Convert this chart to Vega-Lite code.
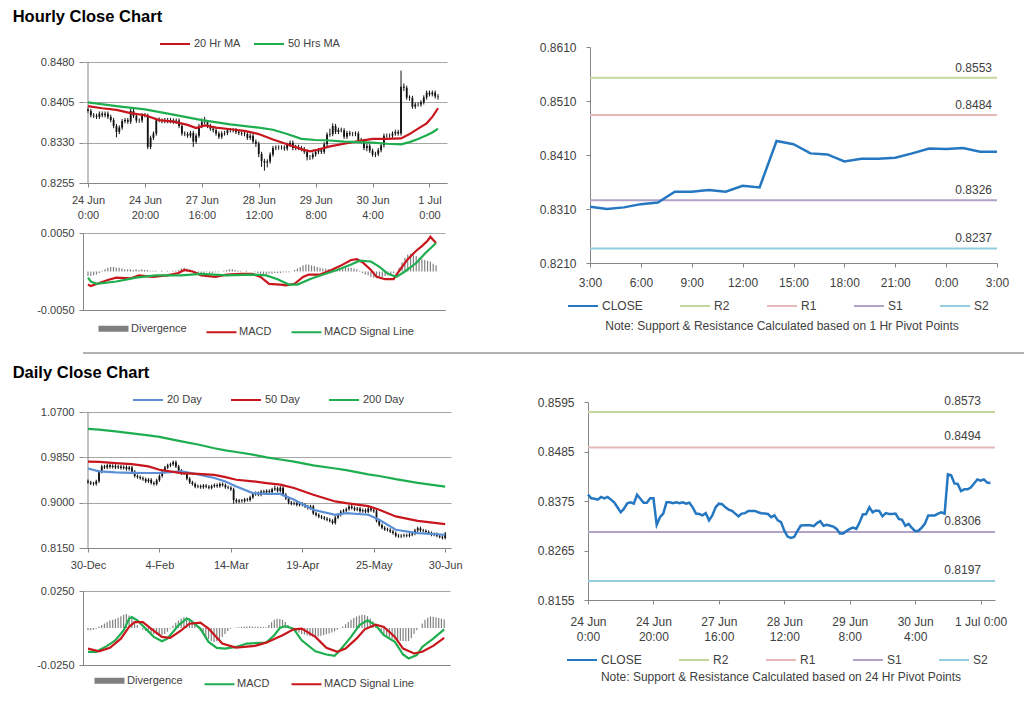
{
  "$schema": "https://vega.github.io/schema/vega-lite/v6.json",
  "background": "white",
  "padding": {"left": 12, "top": 8, "right": 0, "bottom": 0},
  "spacing": 10,
  "config": {
    "font": "Liberation Sans",
    "view": {"stroke": null},
    "axis": {"labelFont": "Liberation Sans", "labelColor": "#404040", "domainColor": "#868686", "tickColor": "#868686", "gridColor": "#a6a6a6", "tickSize": 4, "labelFontSize": 11},
    "legend": {"labelFont": "Liberation Sans", "labelColor": "#404040", "labelFontSize": 11, "symbolStrokeWidth": 2, "padding": 0, "titleFont": "Liberation Sans"}
  },
  "resolve": {"scale": {"color": "independent"}, "legend": {"color": "independent"}},
  "datasets": {
    "hourly": [
      {"i":0,"o":0.8392,"h":0.8396,"l":0.8385,"c":0.8389},{"i":1,"o":0.8389,"h":0.8393,"l":0.8377,"c":0.8381},{"i":2,"o":0.8381,"h":0.8385,"l":0.8376,"c":0.8380},{"i":3,"o":0.8380,"h":0.8384,"l":0.8374,"c":0.8378},
      {"i":4,"o":0.8378,"h":0.8388,"l":0.8374,"c":0.8384},{"i":5,"o":0.8384,"h":0.8388,"l":0.8377,"c":0.8381},{"i":6,"o":0.8381,"h":0.8388,"l":0.8377,"c":0.8384},{"i":7,"o":0.8384,"h":0.8388,"l":0.8374,"c":0.8378},
      {"i":8,"o":0.8378,"h":0.8382,"l":0.8368,"c":0.8372},{"i":9,"o":0.8372,"h":0.8376,"l":0.8357,"c":0.8361},{"i":10,"o":0.8361,"h":0.8365,"l":0.8340,"c":0.8350},{"i":11,"o":0.8350,"h":0.8362,"l":0.8346,"c":0.8358},
      {"i":12,"o":0.8358,"h":0.8374,"l":0.8354,"c":0.8370},{"i":13,"o":0.8370,"h":0.8376,"l":0.8366,"c":0.8372},{"i":14,"o":0.8372,"h":0.8376,"l":0.8365,"c":0.8369},{"i":15,"o":0.8369,"h":0.8395,"l":0.8365,"c":0.8389},
      {"i":16,"o":0.8389,"h":0.8393,"l":0.8376,"c":0.8380},{"i":17,"o":0.8380,"h":0.8384,"l":0.8367,"c":0.8371},{"i":18,"o":0.8371,"h":0.8375,"l":0.8367,"c":0.8371},{"i":19,"o":0.8371,"h":0.8385,"l":0.8367,"c":0.8381},
      {"i":20,"o":0.8381,"h":0.8385,"l":0.8377,"c":0.8381},{"i":21,"o":0.8381,"h":0.8384,"l":0.8318,"c":0.8322},{"i":22,"o":0.8322,"h":0.8343,"l":0.8318,"c":0.8339},{"i":23,"o":0.8339,"h":0.8351,"l":0.8335,"c":0.8347},
      {"i":24,"o":0.8347,"h":0.8376,"l":0.8343,"c":0.8372},{"i":25,"o":0.8372,"h":0.8377,"l":0.8368,"c":0.8372},{"i":26,"o":0.8372,"h":0.8375,"l":0.8366,"c":0.8370},{"i":27,"o":0.8370,"h":0.8376,"l":0.8366,"c":0.8372},
      {"i":28,"o":0.8372,"h":0.8376,"l":0.8366,"c":0.8370},{"i":29,"o":0.8370,"h":0.8376,"l":0.8366,"c":0.8372},{"i":30,"o":0.8372,"h":0.8375,"l":0.8365,"c":0.8369},{"i":31,"o":0.8369,"h":0.8375,"l":0.8365,"c":0.8371},
      {"i":32,"o":0.8371,"h":0.8375,"l":0.8357,"c":0.8361},{"i":33,"o":0.8361,"h":0.8365,"l":0.8343,"c":0.8347},{"i":34,"o":0.8347,"h":0.8351,"l":0.8342,"c":0.8346},{"i":35,"o":0.8346,"h":0.8350,"l":0.8339,"c":0.8343},
      {"i":36,"o":0.8343,"h":0.8352,"l":0.8339,"c":0.8348},{"i":37,"o":0.8348,"h":0.8352,"l":0.8322,"c":0.8332},{"i":38,"o":0.8332,"h":0.8347,"l":0.8328,"c":0.8343},{"i":39,"o":0.8343,"h":0.8365,"l":0.8339,"c":0.8361},
      {"i":40,"o":0.8361,"h":0.8375,"l":0.8357,"c":0.8369},{"i":41,"o":0.8369,"h":0.8378,"l":0.8364,"c":0.8368},{"i":42,"o":0.8368,"h":0.8372,"l":0.8357,"c":0.8361},{"i":43,"o":0.8361,"h":0.8365,"l":0.8352,"c":0.8356},
      {"i":44,"o":0.8356,"h":0.8360,"l":0.8349,"c":0.8353},{"i":45,"o":0.8353,"h":0.8357,"l":0.8343,"c":0.8347},{"i":46,"o":0.8347,"h":0.8351,"l":0.8337,"c":0.8341},{"i":47,"o":0.8341,"h":0.8351,"l":0.8337,"c":0.8347},
      {"i":48,"o":0.8347,"h":0.8352,"l":0.8343,"c":0.8348},{"i":49,"o":0.8348,"h":0.8357,"l":0.8344,"c":0.8353},{"i":50,"o":0.8353,"h":0.8357,"l":0.8349,"c":0.8353},{"i":51,"o":0.8353,"h":0.8357,"l":0.8349,"c":0.8353},
      {"i":52,"o":0.8353,"h":0.8357,"l":0.8346,"c":0.8350},{"i":53,"o":0.8350,"h":0.8354,"l":0.8344,"c":0.8348},{"i":54,"o":0.8348,"h":0.8352,"l":0.8343,"c":0.8347},{"i":55,"o":0.8347,"h":0.8351,"l":0.8342,"c":0.8346},
      {"i":56,"o":0.8346,"h":0.8350,"l":0.8335,"c":0.8339},{"i":57,"o":0.8339,"h":0.8347,"l":0.8335,"c":0.8343},{"i":58,"o":0.8343,"h":0.8347,"l":0.8328,"c":0.8332},{"i":59,"o":0.8332,"h":0.8336,"l":0.8322,"c":0.8328},
      {"i":60,"o":0.8328,"h":0.8332,"l":0.8303,"c":0.8309},{"i":61,"o":0.8309,"h":0.8313,"l":0.8285,"c":0.8296},{"i":62,"o":0.8296,"h":0.8300,"l":0.8278,"c":0.8293},{"i":63,"o":0.8293,"h":0.8299,"l":0.8284,"c":0.8295},
      {"i":64,"o":0.8295,"h":0.8312,"l":0.8291,"c":0.8308},{"i":65,"o":0.8308,"h":0.8324,"l":0.8304,"c":0.8320},{"i":66,"o":0.8320,"h":0.8325,"l":0.8316,"c":0.8321},{"i":67,"o":0.8321,"h":0.8325,"l":0.8317,"c":0.8321},
      {"i":68,"o":0.8321,"h":0.8325,"l":0.8317,"c":0.8321},{"i":69,"o":0.8321,"h":0.8325,"l":0.8315,"c":0.8319},{"i":70,"o":0.8319,"h":0.8330,"l":0.8315,"c":0.8326},{"i":71,"o":0.8326,"h":0.8334,"l":0.8322,"c":0.8330},
      {"i":72,"o":0.8330,"h":0.8334,"l":0.8316,"c":0.8320},{"i":73,"o":0.8320,"h":0.8326,"l":0.8316,"c":0.8322},{"i":74,"o":0.8322,"h":0.8326,"l":0.8316,"c":0.8320},{"i":75,"o":0.8320,"h":0.8324,"l":0.8314,"c":0.8318},
      {"i":76,"o":0.8318,"h":0.8322,"l":0.8309,"c":0.8313},{"i":77,"o":0.8313,"h":0.8317,"l":0.8297,"c":0.8303},{"i":78,"o":0.8303,"h":0.8307,"l":0.8298,"c":0.8303},{"i":79,"o":0.8303,"h":0.8312,"l":0.8299,"c":0.8308},
      {"i":80,"o":0.8308,"h":0.8317,"l":0.8304,"c":0.8313},{"i":81,"o":0.8313,"h":0.8320,"l":0.8309,"c":0.8316},{"i":82,"o":0.8316,"h":0.8320,"l":0.8309,"c":0.8313},{"i":83,"o":0.8313,"h":0.8331,"l":0.8309,"c":0.8327},
      {"i":84,"o":0.8327,"h":0.8349,"l":0.8323,"c":0.8345},{"i":85,"o":0.8345,"h":0.8356,"l":0.8341,"c":0.8346},{"i":86,"o":0.8346,"h":0.8366,"l":0.8342,"c":0.8361},{"i":87,"o":0.8361,"h":0.8365,"l":0.8346,"c":0.8350},
      {"i":88,"o":0.8350,"h":0.8358,"l":0.8346,"c":0.8354},{"i":89,"o":0.8354,"h":0.8358,"l":0.8349,"c":0.8353},{"i":90,"o":0.8353,"h":0.8357,"l":0.8337,"c":0.8341},{"i":91,"o":0.8341,"h":0.8352,"l":0.8337,"c":0.8348},
      {"i":92,"o":0.8348,"h":0.8352,"l":0.8342,"c":0.8346},{"i":93,"o":0.8346,"h":0.8350,"l":0.8342,"c":0.8346},{"i":94,"o":0.8346,"h":0.8351,"l":0.8342,"c":0.8347},{"i":95,"o":0.8347,"h":0.8351,"l":0.8331,"c":0.8335},
      {"i":96,"o":0.8335,"h":0.8339,"l":0.8329,"c":0.8333},{"i":97,"o":0.8333,"h":0.8337,"l":0.8316,"c":0.8320},{"i":98,"o":0.8320,"h":0.8328,"l":0.8314,"c":0.8324},{"i":99,"o":0.8324,"h":0.8328,"l":0.8311,"c":0.8315},
      {"i":100,"o":0.8315,"h":0.8319,"l":0.8304,"c":0.8308},{"i":101,"o":0.8308,"h":0.8313,"l":0.8303,"c":0.8309},{"i":102,"o":0.8309,"h":0.8320,"l":0.8305,"c":0.8316},{"i":103,"o":0.8316,"h":0.8329,"l":0.8312,"c":0.8325},
      {"i":104,"o":0.8325,"h":0.8347,"l":0.8321,"c":0.8343},{"i":105,"o":0.8343,"h":0.8347,"l":0.8339,"c":0.8343},{"i":106,"o":0.8343,"h":0.8347,"l":0.8339,"c":0.8343},{"i":107,"o":0.8343,"h":0.8351,"l":0.8339,"c":0.8347},
      {"i":108,"o":0.8347,"h":0.8354,"l":0.8343,"c":0.8350},{"i":109,"o":0.8350,"h":0.8354,"l":0.8343,"c":0.8347},{"i":110,"o":0.8347,"h":0.8464,"l":0.8343,"c":0.8434},{"i":111,"o":0.8434,"h":0.8440,"l":0.8426,"c":0.8432},
      {"i":112,"o":0.8432,"h":0.8436,"l":0.8410,"c":0.8414},{"i":113,"o":0.8414,"h":0.8418,"l":0.8408,"c":0.8413},{"i":114,"o":0.8413,"h":0.8417,"l":0.8393,"c":0.8397},{"i":115,"o":0.8397,"h":0.8405,"l":0.8393,"c":0.8401},
      {"i":116,"o":0.8401,"h":0.8405,"l":0.8397,"c":0.8401},{"i":117,"o":0.8401,"h":0.8409,"l":0.8397,"c":0.8405},{"i":118,"o":0.8405,"h":0.8418,"l":0.8401,"c":0.8414},{"i":119,"o":0.8414,"h":0.8427,"l":0.8410,"c":0.8423},
      {"i":120,"o":0.8423,"h":0.8427,"l":0.8416,"c":0.8420},{"i":121,"o":0.8420,"h":0.8427,"l":0.8416,"c":0.8423},{"i":122,"o":0.8423,"h":0.8427,"l":0.8412,"c":0.8416},{"i":123,"o":0.8416,"h":0.8420,"l":0.8410,"c":0.8415}
    ],
    "hourlyMA": [
      {"i":0,"k":"20 Hr MA","v":0.8398},{"i":5,"k":"20 Hr MA","v":0.8394},{"i":10,"k":"20 Hr MA","v":0.8391},{"i":15,"k":"20 Hr MA","v":0.8385},{"i":20,"k":"20 Hr MA","v":0.8381},
      {"i":25,"k":"20 Hr MA","v":0.8372},{"i":30,"k":"20 Hr MA","v":0.8369},{"i":35,"k":"20 Hr MA","v":0.8363},{"i":38,"k":"20 Hr MA","v":0.8357},{"i":41,"k":"20 Hr MA","v":0.8362},
      {"i":45,"k":"20 Hr MA","v":0.8358},{"i":50,"k":"20 Hr MA","v":0.8355},{"i":55,"k":"20 Hr MA","v":0.8352},{"i":60,"k":"20 Hr MA","v":0.8346},{"i":65,"k":"20 Hr MA","v":0.8336},
      {"i":70,"k":"20 Hr MA","v":0.8327},{"i":75,"k":"20 Hr MA","v":0.8318},{"i":78,"k":"20 Hr MA","v":0.8314},{"i":80,"k":"20 Hr MA","v":0.8316},{"i":85,"k":"20 Hr MA","v":0.8323},
      {"i":90,"k":"20 Hr MA","v":0.8328},{"i":95,"k":"20 Hr MA","v":0.8333},{"i":100,"k":"20 Hr MA","v":0.8337},{"i":105,"k":"20 Hr MA","v":0.8337},{"i":110,"k":"20 Hr MA","v":0.8338},
      {"i":113,"k":"20 Hr MA","v":0.8346},{"i":116,"k":"20 Hr MA","v":0.8356},{"i":119,"k":"20 Hr MA","v":0.8366},{"i":121,"k":"20 Hr MA","v":0.8378},{"i":123,"k":"20 Hr MA","v":0.8394},
      {"i":0,"k":"50 Hrs MA","v":0.8405},{"i":10,"k":"50 Hrs MA","v":0.8398},{"i":20,"k":"50 Hrs MA","v":0.8392},{"i":30,"k":"50 Hrs MA","v":0.8382},{"i":40,"k":"50 Hrs MA","v":0.8372},
      {"i":50,"k":"50 Hrs MA","v":0.8364},{"i":60,"k":"50 Hrs MA","v":0.8358},{"i":65,"k":"50 Hrs MA","v":0.8354},{"i":70,"k":"50 Hrs MA","v":0.8346},{"i":75,"k":"50 Hrs MA","v":0.8337},
      {"i":80,"k":"50 Hrs MA","v":0.8335},{"i":85,"k":"50 Hrs MA","v":0.8334},{"i":90,"k":"50 Hrs MA","v":0.8332},{"i":95,"k":"50 Hrs MA","v":0.8331},{"i":100,"k":"50 Hrs MA","v":0.8330},
      {"i":105,"k":"50 Hrs MA","v":0.8328},{"i":110,"k":"50 Hrs MA","v":0.8327},{"i":113,"k":"50 Hrs MA","v":0.8331},{"i":116,"k":"50 Hrs MA","v":0.8337},{"i":119,"k":"50 Hrs MA","v":0.8344},
      {"i":121,"k":"50 Hrs MA","v":0.8349},{"i":123,"k":"50 Hrs MA","v":0.8356}
    ],
    "hourlyMACD": [
      {"i":0,"k":"MACD","v":-0.0017},{"i":1,"k":"MACD","v":-0.0019},{"i":7,"k":"MACD","v":-0.0011},{"i":10,"k":"MACD","v":-0.0008},{"i":15,"k":"MACD","v":-0.0009},
      {"i":18,"k":"MACD","v":-0.0005},{"i":23,"k":"MACD","v":-0.0007},{"i":28,"k":"MACD","v":-0.0005},{"i":32,"k":"MACD","v":-0.0002},{"i":34,"k":"MACD","v":0.0002},
      {"i":37,"k":"MACD","v":0.0000},{"i":40,"k":"MACD","v":-0.0005},{"i":45,"k":"MACD","v":-0.0007},{"i":49,"k":"MACD","v":-0.0004},{"i":54,"k":"MACD","v":-0.0003},
      {"i":58,"k":"MACD","v":-0.0003},{"i":61,"k":"MACD","v":-0.0007},{"i":64,"k":"MACD","v":-0.0016},{"i":68,"k":"MACD","v":-0.0017},{"i":70,"k":"MACD","v":-0.0018},
      {"i":73,"k":"MACD","v":-0.0016},{"i":76,"k":"MACD","v":-0.0007},{"i":78,"k":"MACD","v":-0.0004},{"i":82,"k":"MACD","v":-0.0004},{"i":86,"k":"MACD","v":0.0002},
      {"i":89,"k":"MACD","v":0.0007},{"i":93,"k":"MACD","v":0.0015},{"i":95,"k":"MACD","v":0.0016},{"i":97,"k":"MACD","v":0.0012},{"i":100,"k":"MACD","v":0.0002},
      {"i":102,"k":"MACD","v":-0.0007},{"i":105,"k":"MACD","v":-0.0010},{"i":108,"k":"MACD","v":-0.0010},{"i":110,"k":"MACD","v":0.0001},{"i":113,"k":"MACD","v":0.0016},
      {"i":116,"k":"MACD","v":0.0027},{"i":118,"k":"MACD","v":0.0033},{"i":120,"k":"MACD","v":0.0040},{"i":121,"k":"MACD","v":0.0045},{"i":123,"k":"MACD","v":0.0037},
      {"i":0,"k":"MACD Signal Line","v":-0.0008},{"i":1,"k":"MACD Signal Line","v":-0.0013},{"i":3,"k":"MACD Signal Line","v":-0.0016},{"i":10,"k":"MACD Signal Line","v":-0.0013},
      {"i":17,"k":"MACD Signal Line","v":-0.0008},{"i":24,"k":"MACD Signal Line","v":-0.0005},{"i":33,"k":"MACD Signal Line","v":-0.0005},{"i":40,"k":"MACD Signal Line","v":-0.0003},
      {"i":49,"k":"MACD Signal Line","v":-0.0005},{"i":58,"k":"MACD Signal Line","v":-0.0004},{"i":63,"k":"MACD Signal Line","v":-0.0005},{"i":67,"k":"MACD Signal Line","v":-0.0010},
      {"i":71,"k":"MACD Signal Line","v":-0.0017},{"i":74,"k":"MACD Signal Line","v":-0.0017},{"i":79,"k":"MACD Signal Line","v":-0.0009},{"i":84,"k":"MACD Signal Line","v":-0.0003},
      {"i":88,"k":"MACD Signal Line","v":0.0002},{"i":93,"k":"MACD Signal Line","v":0.0009},{"i":96,"k":"MACD Signal Line","v":0.0014},{"i":100,"k":"MACD Signal Line","v":0.0013},
      {"i":103,"k":"MACD Signal Line","v":0.0006},{"i":106,"k":"MACD Signal Line","v":-0.0003},{"i":109,"k":"MACD Signal Line","v":-0.0007},{"i":112,"k":"MACD Signal Line","v":0.0000},
      {"i":116,"k":"MACD Signal Line","v":0.0011},{"i":119,"k":"MACD Signal Line","v":0.0023},{"i":123,"k":"MACD Signal Line","v":0.0037}
    ],
    "hourlyDiv": [
      {"i":0,"v":-0.0006},{"i":1,"v":-0.0006},{"i":2,"v":-0.0005},{"i":3,"v":-0.0004},{"i":4,"v":-0.0002},{"i":5,"v":0.0001},{"i":6,"v":0.0003},{"i":7,"v":0.0005},{"i":8,"v":0.0006},{"i":9,"v":0.0006},
      {"i":10,"v":0.0005},{"i":11,"v":0.0005},{"i":12,"v":0.0004},{"i":13,"v":0.0003},{"i":14,"v":0.0003},{"i":15,"v":0.0003},{"i":16,"v":0.0002},{"i":17,"v":0.0003},{"i":18,"v":0.0002},{"i":19,"v":0.0003},
      {"i":20,"v":0.0002},{"i":21,"v":0.0002},{"i":22,"v":0.0001},{"i":23,"v":0.0001},{"i":24,"v":0.0001},{"i":25,"v":0.0000},{"i":26,"v":0.0001},{"i":27,"v":0.0000},{"i":28,"v":0.0001},{"i":29,"v":0.0000},
      {"i":30,"v":0.0001},{"i":31,"v":0.0001},{"i":32,"v":0.0002},{"i":33,"v":0.0004},{"i":34,"v":0.0005},{"i":35,"v":0.0004},{"i":36,"v":0.0003},{"i":37,"v":0.0001},{"i":38,"v":-0.0001},{"i":39,"v":-0.0002},
      {"i":40,"v":-0.0002},{"i":41,"v":-0.0002},{"i":42,"v":-0.0001},{"i":43,"v":-0.0002},{"i":44,"v":-0.0002},{"i":45,"v":-0.0001},{"i":46,"v":-0.0001},{"i":47,"v":0.0000},{"i":48,"v":0.0001},{"i":49,"v":0.0002},
      {"i":50,"v":0.0003},{"i":51,"v":0.0003},{"i":52,"v":0.0002},{"i":53,"v":0.0001},{"i":54,"v":0.0001},{"i":55,"v":0.0000},{"i":56,"v":0.0001},{"i":57,"v":0.0000},{"i":58,"v":0.0000},{"i":59,"v":-0.0001},
      {"i":60,"v":-0.0002},{"i":61,"v":-0.0003},{"i":62,"v":-0.0004},{"i":63,"v":-0.0004},{"i":64,"v":-0.0003},{"i":65,"v":-0.0003},{"i":66,"v":-0.0002},{"i":67,"v":-0.0002},{"i":68,"v":-0.0002},{"i":69,"v":-0.0001},
      {"i":70,"v":-0.0001},{"i":71,"v":-0.0001},{"i":72,"v":0.0000},{"i":73,"v":0.0002},{"i":74,"v":0.0004},{"i":75,"v":0.0006},{"i":76,"v":0.0008},{"i":77,"v":0.0009},{"i":78,"v":0.0009},{"i":79,"v":0.0008},
      {"i":80,"v":0.0007},{"i":81,"v":0.0006},{"i":82,"v":0.0005},{"i":83,"v":0.0004},{"i":84,"v":0.0004},{"i":85,"v":0.0003},{"i":86,"v":0.0003},{"i":87,"v":0.0003},{"i":88,"v":0.0003},{"i":89,"v":0.0004},
      {"i":90,"v":0.0004},{"i":91,"v":0.0005},{"i":92,"v":0.0005},{"i":93,"v":0.0005},{"i":94,"v":0.0004},{"i":95,"v":0.0003},{"i":96,"v":0.0001},{"i":97,"v":-0.0002},{"i":98,"v":-0.0004},{"i":99,"v":-0.0005},
      {"i":100,"v":-0.0007},{"i":101,"v":-0.0008},{"i":102,"v":-0.0008},{"i":103,"v":-0.0008},{"i":104,"v":-0.0007},{"i":105,"v":-0.0006},{"i":106,"v":-0.0005},{"i":107,"v":-0.0004},{"i":108,"v":-0.0002},{"i":109,"v":0.0000},
      {"i":110,"v":0.0005},{"i":111,"v":0.0012},{"i":112,"v":0.0018},{"i":113,"v":0.0022},{"i":114,"v":0.0023},{"i":115,"v":0.0021},{"i":116,"v":0.0020},{"i":117,"v":0.0018},{"i":118,"v":0.0016},{"i":119,"v":0.0015},
      {"i":120,"v":0.0014},{"i":121,"v":0.0013},{"i":122,"v":0.0010},{"i":123,"v":0.0008}
    ],
    "close24": [
      {"h":0,"c":0.8314},{"h":1,"c":0.8310},{"h":2,"c":0.8313},{"h":3,"c":0.8319},{"h":4,"c":0.8322},{"h":5,"c":0.8342},{"h":6,"c":0.8342},{"h":7,"c":0.8345},{"h":8,"c":0.8342},
      {"h":9,"c":0.8353},{"h":10,"c":0.8350},{"h":11,"c":0.8436},{"h":12,"c":0.8430},{"h":13,"c":0.8413},{"h":14,"c":0.8411},{"h":15,"c":0.8398},{"h":16,"c":0.8403},{"h":17,"c":0.8403},
      {"h":18,"c":0.8405},{"h":19,"c":0.8413},{"h":20,"c":0.8422},{"h":21,"c":0.8421},{"h":22,"c":0.8423},{"h":23,"c":0.8416},{"h":24,"c":0.8416}
    ],
    "pivH": [{"name":"R2","v":0.8553},{"name":"R1","v":0.8484},{"name":"S1","v":0.8326},{"name":"S2","v":0.8237}],
    "pivD": [{"name":"R2","v":0.8573},{"name":"R1","v":0.8494},{"name":"S1","v":0.8306},{"name":"S2","v":0.8197}],
    "daily": [
      {"d":0,"o":0.941,"h":0.944,"l":0.935,"c":0.938},{"d":1,"o":0.938,"h":0.941,"l":0.933,"c":0.936},{"d":2,"o":0.936,"h":0.939,"l":0.932,"c":0.935},{"d":3,"o":0.935,"h":0.943,"l":0.932,"c":0.940},
      {"d":4,"o":0.940,"h":0.961,"l":0.937,"c":0.958},{"d":5,"o":0.958,"h":0.971,"l":0.955,"c":0.968},{"d":6,"o":0.968,"h":0.971,"l":0.963,"c":0.966},{"d":7,"o":0.966,"h":0.973,"l":0.963,"c":0.970},
      {"d":8,"o":0.970,"h":0.973,"l":0.964,"c":0.967},{"d":9,"o":0.967,"h":0.972,"l":0.964,"c":0.969},{"d":10,"o":0.969,"h":0.972,"l":0.963,"c":0.966},{"d":11,"o":0.966,"h":0.971,"l":0.963,"c":0.968},
      {"d":12,"o":0.968,"h":0.971,"l":0.962,"c":0.965},{"d":13,"o":0.965,"h":0.970,"l":0.962,"c":0.967},{"d":14,"o":0.967,"h":0.970,"l":0.960,"c":0.963},{"d":15,"o":0.963,"h":0.969,"l":0.960,"c":0.966},
      {"d":16,"o":0.966,"h":0.969,"l":0.955,"c":0.958},{"d":17,"o":0.958,"h":0.961,"l":0.947,"c":0.950},{"d":18,"o":0.950,"h":0.953,"l":0.945,"c":0.948},{"d":19,"o":0.948,"h":0.951,"l":0.943,"c":0.946},
      {"d":20,"o":0.946,"h":0.949,"l":0.941,"c":0.944},{"d":21,"o":0.944,"h":0.947,"l":0.937,"c":0.940},{"d":22,"o":0.940,"h":0.946,"l":0.937,"c":0.943},{"d":23,"o":0.943,"h":0.946,"l":0.934,"c":0.937},
      {"d":24,"o":0.937,"h":0.940,"l":0.932,"c":0.935},{"d":25,"o":0.935,"h":0.945,"l":0.932,"c":0.942},{"d":26,"o":0.942,"h":0.953,"l":0.939,"c":0.950},{"d":27,"o":0.950,"h":0.961,"l":0.947,"c":0.958},
      {"d":28,"o":0.958,"h":0.969,"l":0.955,"c":0.966},{"d":29,"o":0.966,"h":0.973,"l":0.963,"c":0.970},{"d":30,"o":0.970,"h":0.975,"l":0.967,"c":0.972},{"d":31,"o":0.972,"h":0.979,"l":0.969,"c":0.976},
      {"d":32,"o":0.976,"h":0.979,"l":0.965,"c":0.968},{"d":33,"o":0.968,"h":0.971,"l":0.957,"c":0.960},{"d":34,"o":0.960,"h":0.963,"l":0.952,"c":0.955},{"d":35,"o":0.955,"h":0.958,"l":0.952,"c":0.955},
      {"d":36,"o":0.955,"h":0.958,"l":0.942,"c":0.945},{"d":37,"o":0.945,"h":0.948,"l":0.935,"c":0.938},{"d":38,"o":0.938,"h":0.941,"l":0.932,"c":0.935},{"d":39,"o":0.935,"h":0.938,"l":0.927,"c":0.930},
      {"d":40,"o":0.930,"h":0.934,"l":0.927,"c":0.931},{"d":41,"o":0.931,"h":0.934,"l":0.926,"c":0.929},{"d":42,"o":0.929,"h":0.935,"l":0.926,"c":0.932},{"d":43,"o":0.932,"h":0.935,"l":0.927,"c":0.930},
      {"d":44,"o":0.930,"h":0.933,"l":0.925,"c":0.928},{"d":45,"o":0.928,"h":0.934,"l":0.925,"c":0.931},{"d":46,"o":0.931,"h":0.936,"l":0.928,"c":0.933},{"d":47,"o":0.933,"h":0.936,"l":0.928,"c":0.931},
      {"d":48,"o":0.931,"h":0.938,"l":0.928,"c":0.935},{"d":49,"o":0.935,"h":0.938,"l":0.930,"c":0.933},{"d":50,"o":0.933,"h":0.936,"l":0.926,"c":0.929},{"d":51,"o":0.929,"h":0.932,"l":0.925,"c":0.928},
      {"d":52,"o":0.928,"h":0.931,"l":0.922,"c":0.925},{"d":53,"o":0.925,"h":0.928,"l":0.898,"c":0.905},{"d":54,"o":0.905,"h":0.908,"l":0.899,"c":0.902},{"d":55,"o":0.902,"h":0.907,"l":0.899,"c":0.904},
      {"d":56,"o":0.904,"h":0.907,"l":0.900,"c":0.903},{"d":57,"o":0.903,"h":0.909,"l":0.900,"c":0.906},{"d":58,"o":0.906,"h":0.909,"l":0.902,"c":0.905},{"d":59,"o":0.905,"h":0.913,"l":0.902,"c":0.910},
      {"d":60,"o":0.910,"h":0.919,"l":0.907,"c":0.916},{"d":61,"o":0.916,"h":0.921,"l":0.913,"c":0.918},{"d":62,"o":0.918,"h":0.921,"l":0.912,"c":0.915},{"d":63,"o":0.915,"h":0.924,"l":0.912,"c":0.921},
      {"d":64,"o":0.921,"h":0.924,"l":0.916,"c":0.919},{"d":65,"o":0.919,"h":0.925,"l":0.916,"c":0.922},{"d":66,"o":0.922,"h":0.925,"l":0.917,"c":0.920},{"d":67,"o":0.920,"h":0.928,"l":0.917,"c":0.925},
      {"d":68,"o":0.925,"h":0.932,"l":0.922,"c":0.927},{"d":69,"o":0.927,"h":0.930,"l":0.919,"c":0.922},{"d":70,"o":0.922,"h":0.931,"l":0.919,"c":0.928},{"d":71,"o":0.928,"h":0.931,"l":0.912,"c":0.915},
      {"d":72,"o":0.915,"h":0.918,"l":0.905,"c":0.908},{"d":73,"o":0.908,"h":0.911,"l":0.897,"c":0.900},{"d":74,"o":0.900,"h":0.903,"l":0.895,"c":0.898},{"d":75,"o":0.898,"h":0.902,"l":0.895,"c":0.899},
      {"d":76,"o":0.899,"h":0.902,"l":0.893,"c":0.896},{"d":77,"o":0.896,"h":0.901,"l":0.893,"c":0.898},{"d":78,"o":0.898,"h":0.901,"l":0.893,"c":0.896},{"d":79,"o":0.896,"h":0.899,"l":0.890,"c":0.893},
      {"d":80,"o":0.893,"h":0.896,"l":0.887,"c":0.890},{"d":81,"o":0.890,"h":0.896,"l":0.887,"c":0.893},{"d":82,"o":0.893,"h":0.896,"l":0.877,"c":0.880},{"d":83,"o":0.880,"h":0.883,"l":0.874,"c":0.877},
      {"d":84,"o":0.877,"h":0.880,"l":0.871,"c":0.874},{"d":85,"o":0.874,"h":0.877,"l":0.869,"c":0.872},{"d":86,"o":0.872,"h":0.875,"l":0.867,"c":0.870},{"d":87,"o":0.870,"h":0.873,"l":0.865,"c":0.868},
      {"d":88,"o":0.868,"h":0.871,"l":0.863,"c":0.866},{"d":89,"o":0.866,"h":0.869,"l":0.859,"c":0.862},{"d":90,"o":0.862,"h":0.875,"l":0.859,"c":0.872},{"d":91,"o":0.872,"h":0.880,"l":0.869,"c":0.877},
      {"d":92,"o":0.877,"h":0.886,"l":0.874,"c":0.883},{"d":93,"o":0.883,"h":0.888,"l":0.880,"c":0.885},{"d":94,"o":0.885,"h":0.891,"l":0.882,"c":0.888},{"d":95,"o":0.888,"h":0.896,"l":0.885,"c":0.893},
      {"d":96,"o":0.893,"h":0.896,"l":0.887,"c":0.890},{"d":97,"o":0.890,"h":0.893,"l":0.884,"c":0.887},{"d":98,"o":0.887,"h":0.892,"l":0.884,"c":0.889},{"d":99,"o":0.889,"h":0.892,"l":0.881,"c":0.884},
      {"d":100,"o":0.884,"h":0.889,"l":0.881,"c":0.886},{"d":101,"o":0.886,"h":0.889,"l":0.880,"c":0.883},{"d":102,"o":0.883,"h":0.892,"l":0.880,"c":0.889},{"d":103,"o":0.889,"h":0.892,"l":0.883,"c":0.886},
      {"d":104,"o":0.886,"h":0.889,"l":0.881,"c":0.884},{"d":105,"o":0.884,"h":0.887,"l":0.863,"c":0.866},{"d":106,"o":0.866,"h":0.869,"l":0.855,"c":0.858},{"d":107,"o":0.858,"h":0.861,"l":0.850,"c":0.853},
      {"d":108,"o":0.853,"h":0.856,"l":0.847,"c":0.850},{"d":109,"o":0.850,"h":0.853,"l":0.846,"c":0.849},{"d":110,"o":0.849,"h":0.852,"l":0.843,"c":0.846},{"d":111,"o":0.846,"h":0.849,"l":0.840,"c":0.843},
      {"d":112,"o":0.843,"h":0.846,"l":0.835,"c":0.838},{"d":113,"o":0.838,"h":0.841,"l":0.834,"c":0.837},{"d":114,"o":0.837,"h":0.841,"l":0.834,"c":0.838},{"d":115,"o":0.838,"h":0.842,"l":0.835,"c":0.839},
      {"d":116,"o":0.839,"h":0.842,"l":0.835,"c":0.838},{"d":117,"o":0.838,"h":0.843,"l":0.835,"c":0.840},{"d":118,"o":0.840,"h":0.845,"l":0.837,"c":0.842},{"d":119,"o":0.842,"h":0.851,"l":0.839,"c":0.848},
      {"d":120,"o":0.848,"h":0.855,"l":0.845,"c":0.852},{"d":121,"o":0.852,"h":0.855,"l":0.845,"c":0.848},{"d":122,"o":0.848,"h":0.851,"l":0.844,"c":0.847},{"d":123,"o":0.847,"h":0.850,"l":0.842,"c":0.845},
      {"d":124,"o":0.845,"h":0.848,"l":0.840,"c":0.843},{"d":125,"o":0.843,"h":0.846,"l":0.837,"c":0.840},{"d":126,"o":0.840,"h":0.844,"l":0.837,"c":0.841},{"d":127,"o":0.841,"h":0.844,"l":0.835,"c":0.838},
      {"d":128,"o":0.838,"h":0.841,"l":0.833,"c":0.836},{"d":129,"o":0.836,"h":0.839,"l":0.831,"c":0.834},{"d":130,"o":0.834,"h":0.845,"l":0.831,"c":0.842}
    ],
    "dailyMA": [
      {"d":0,"20 Day":0.9640,"50 Day":0.9770,"200 Day":1.0385},{"d":4,"20 Day":0.9586,"50 Day":0.9765,"200 Day":1.0370},{"d":10,"20 Day":0.9568,"50 Day":0.9742,"200 Day":1.0336},
      {"d":16,"20 Day":0.9560,"50 Day":0.9723,"200 Day":1.0300},{"d":22,"20 Day":0.9556,"50 Day":0.9680,"200 Day":1.0261},{"d":26,"20 Day":0.9560,"50 Day":0.9617,"200 Day":1.0235},
      {"d":34,"20 Day":0.9586,"50 Day":0.9555,"200 Day":1.0149},{"d":40,"20 Day":0.9530,"50 Day":0.9540,"200 Day":1.0090},{"d":46,"20 Day":0.9462,"50 Day":0.9520,"200 Day":1.0020},
      {"d":50,"20 Day":0.9398,"50 Day":0.9480,"200 Day":0.9980},{"d":54,"20 Day":0.9305,"50 Day":0.9430,"200 Day":0.9950},{"d":60,"20 Day":0.9180,"50 Day":0.9400,"200 Day":0.9900},
      {"d":65,"20 Day":0.9164,"50 Day":0.9368,"200 Day":0.9850},{"d":70,"20 Day":0.9164,"50 Day":0.9337,"200 Day":0.9810},{"d":75,"20 Day":0.9055,"50 Day":0.9274,"200 Day":0.9770},
      {"d":82,"20 Day":0.8867,"50 Day":0.9149,"200 Day":0.9700},{"d":90,"20 Day":0.8773,"50 Day":0.9023,"200 Day":0.9640},{"d":94,"20 Day":0.8805,"50 Day":0.8990,"200 Day":0.9610},
      {"d":102,"20 Day":0.8773,"50 Day":0.8935,"200 Day":0.9530},{"d":106,"20 Day":0.8680,"50 Day":0.8867,"200 Day":0.9500},{"d":112,"20 Day":0.8492,"50 Day":0.8742,"200 Day":0.9440},
      {"d":120,"20 Day":0.8430,"50 Day":0.8660,"200 Day":0.9370},{"d":130,"20 Day":0.8398,"50 Day":0.8599,"200 Day":0.9300}
    ],
    "dailyMACD": [
      {"d":0,"k":"MACD","v":-0.0161},{"d":3,"k":"MACD","v":-0.0161},{"d":7,"k":"MACD","v":-0.0121},{"d":10,"k":"MACD","v":-0.0083},{"d":13,"k":"MACD","v":-0.0016},
      {"d":15,"k":"MACD","v":0.0063},{"d":16,"k":"MACD","v":0.0074},{"d":18,"k":"MACD","v":0.0052},{"d":21,"k":"MACD","v":-0.0004},{"d":24,"k":"MACD","v":-0.0060},
      {"d":27,"k":"MACD","v":-0.0090},{"d":29,"k":"MACD","v":-0.0072},{"d":33,"k":"MACD","v":0.0018},{"d":36,"k":"MACD","v":0.0063},{"d":37,"k":"MACD","v":0.0058},
      {"d":41,"k":"MACD","v":-0.0004},{"d":44,"k":"MACD","v":-0.0094},{"d":47,"k":"MACD","v":-0.0134},{"d":50,"k":"MACD","v":-0.0139},{"d":54,"k":"MACD","v":-0.0128},
      {"d":58,"k":"MACD","v":-0.0105},{"d":65,"k":"MACD","v":-0.0099},{"d":68,"k":"MACD","v":-0.0049},{"d":70,"k":"MACD","v":0.0000},{"d":72,"k":"MACD","v":0.0013},
      {"d":75,"k":"MACD","v":-0.0004},{"d":78,"k":"MACD","v":-0.0083},{"d":83,"k":"MACD","v":-0.0157},{"d":87,"k":"MACD","v":-0.0179},{"d":90,"k":"MACD","v":-0.0188},
      {"d":92,"k":"MACD","v":-0.0150},{"d":96,"k":"MACD","v":-0.0060},{"d":99,"k":"MACD","v":0.0018},{"d":102,"k":"MACD","v":0.0052},{"d":105,"k":"MACD","v":0.0018},
      {"d":108,"k":"MACD","v":-0.0049},{"d":112,"k":"MACD","v":-0.0094},{"d":115,"k":"MACD","v":-0.0179},{"d":117,"k":"MACD","v":-0.0206},{"d":120,"k":"MACD","v":-0.0183},
      {"d":122,"k":"MACD","v":-0.0128},{"d":126,"k":"MACD","v":-0.0072},{"d":130,"k":"MACD","v":-0.0009},
      {"d":0,"k":"MACD Signal Line","v":-0.0139},{"d":4,"k":"MACD Signal Line","v":-0.0157},{"d":8,"k":"MACD Signal Line","v":-0.0134},{"d":12,"k":"MACD Signal Line","v":-0.0072},
      {"d":15,"k":"MACD Signal Line","v":0.0007},{"d":17,"k":"MACD Signal Line","v":0.0040},{"d":20,"k":"MACD Signal Line","v":0.0040},{"d":23,"k":"MACD Signal Line","v":-0.0004},
      {"d":27,"k":"MACD Signal Line","v":-0.0060},{"d":30,"k":"MACD Signal Line","v":-0.0067},{"d":34,"k":"MACD Signal Line","v":-0.0016},{"d":37,"k":"MACD Signal Line","v":0.0029},
      {"d":41,"k":"MACD Signal Line","v":0.0036},{"d":44,"k":"MACD Signal Line","v":-0.0004},{"d":49,"k":"MACD Signal Line","v":-0.0105},{"d":54,"k":"MACD Signal Line","v":-0.0132},
      {"d":61,"k":"MACD Signal Line","v":-0.0121},{"d":65,"k":"MACD Signal Line","v":-0.0099},{"d":71,"k":"MACD Signal Line","v":-0.0049},{"d":75,"k":"MACD Signal Line","v":-0.0009},
      {"d":78,"k":"MACD Signal Line","v":-0.0004},{"d":83,"k":"MACD Signal Line","v":-0.0060},{"d":87,"k":"MACD Signal Line","v":-0.0134},{"d":91,"k":"MACD Signal Line","v":-0.0161},
      {"d":94,"k":"MACD Signal Line","v":-0.0139},{"d":98,"k":"MACD Signal Line","v":-0.0072},{"d":101,"k":"MACD Signal Line","v":-0.0009},{"d":105,"k":"MACD Signal Line","v":0.0022},
      {"d":108,"k":"MACD Signal Line","v":0.0007},{"d":112,"k":"MACD Signal Line","v":-0.0060},{"d":115,"k":"MACD Signal Line","v":-0.0139},{"d":119,"k":"MACD Signal Line","v":-0.0172},
      {"d":122,"k":"MACD Signal Line","v":-0.0161},{"d":126,"k":"MACD Signal Line","v":-0.0121},{"d":130,"k":"MACD Signal Line","v":-0.0067}
    ],
    "dailyDiv": [
      {"d":0,"v":-0.0015},{"d":1,"v":-0.0015},{"d":2,"v":-0.0012},{"d":3,"v":-0.0005},{"d":4,"v":0.0010},{"d":5,"v":0.0020},{"d":6,"v":0.0030},{"d":7,"v":0.0040},{"d":8,"v":0.0050},{"d":9,"v":0.0055},
      {"d":10,"v":0.0060},{"d":11,"v":0.0070},{"d":12,"v":0.0080},{"d":13,"v":0.0090},{"d":14,"v":0.0095},{"d":15,"v":0.0085},{"d":16,"v":0.0070},{"d":17,"v":0.0045},{"d":18,"v":0.0020},{"d":19,"v":0.0000},
      {"d":20,"v":-0.0010},{"d":21,"v":-0.0020},{"d":22,"v":-0.0030},{"d":23,"v":-0.0035},{"d":24,"v":-0.0040},{"d":25,"v":-0.0045},{"d":26,"v":-0.0048},{"d":27,"v":-0.0045},{"d":28,"v":-0.0040},{"d":29,"v":-0.0025},
      {"d":30,"v":-0.0005},{"d":31,"v":0.0015},{"d":32,"v":0.0035},{"d":33,"v":0.0050},{"d":34,"v":0.0065},{"d":35,"v":0.0072},{"d":36,"v":0.0074},{"d":37,"v":0.0065},{"d":38,"v":0.0050},{"d":39,"v":0.0030},
      {"d":40,"v":0.0005},{"d":41,"v":-0.0020},{"d":42,"v":-0.0040},{"d":43,"v":-0.0060},{"d":44,"v":-0.0075},{"d":45,"v":-0.0088},{"d":46,"v":-0.0094},{"d":47,"v":-0.0090},{"d":48,"v":-0.0080},{"d":49,"v":-0.0060},
      {"d":50,"v":-0.0040},{"d":51,"v":-0.0020},{"d":52,"v":-0.0005},{"d":53,"v":0.0000},{"d":54,"v":0.0003},{"d":55,"v":0.0005},{"d":56,"v":0.0008},{"d":57,"v":0.0010},{"d":58,"v":0.0010},{"d":59,"v":0.0012},
      {"d":60,"v":0.0010},{"d":61,"v":0.0008},{"d":62,"v":0.0010},{"d":63,"v":0.0008},{"d":64,"v":0.0006},{"d":65,"v":0.0005},{"d":66,"v":0.0020},{"d":67,"v":0.0040},{"d":68,"v":0.0055},{"d":69,"v":0.0063},
      {"d":70,"v":0.0060},{"d":71,"v":0.0055},{"d":72,"v":0.0040},{"d":73,"v":0.0020},{"d":74,"v":0.0000},{"d":75,"v":-0.0010},{"d":76,"v":-0.0020},{"d":77,"v":-0.0030},{"d":78,"v":-0.0040},{"d":79,"v":-0.0045},
      {"d":80,"v":-0.0050},{"d":81,"v":-0.0055},{"d":82,"v":-0.0058},{"d":83,"v":-0.0060},{"d":84,"v":-0.0058},{"d":85,"v":-0.0052},{"d":86,"v":-0.0048},{"d":87,"v":-0.0042},{"d":88,"v":-0.0038},{"d":89,"v":-0.0030},
      {"d":90,"v":-0.0022},{"d":91,"v":-0.0012},{"d":92,"v":-0.0004},{"d":93,"v":0.0010},{"d":94,"v":0.0025},{"d":95,"v":0.0040},{"d":96,"v":0.0055},{"d":97,"v":0.0068},{"d":98,"v":0.0078},{"d":99,"v":0.0085},
      {"d":100,"v":0.0090},{"d":101,"v":0.0088},{"d":102,"v":0.0080},{"d":103,"v":0.0065},{"d":104,"v":0.0045},{"d":105,"v":0.0025},{"d":106,"v":0.0000},{"d":107,"v":-0.0020},{"d":108,"v":-0.0040},{"d":109,"v":-0.0055},
      {"d":110,"v":-0.0065},{"d":111,"v":-0.0072},{"d":112,"v":-0.0078},{"d":113,"v":-0.0082},{"d":114,"v":-0.0086},{"d":115,"v":-0.0088},{"d":116,"v":-0.0090},{"d":117,"v":-0.0088},{"d":118,"v":-0.0070},{"d":119,"v":-0.0040},
      {"d":120,"v":-0.0015},{"d":121,"v":0.0000},{"d":122,"v":0.0030},{"d":123,"v":0.0055},{"d":124,"v":0.0070},{"d":125,"v":0.0078},{"d":126,"v":0.0076},{"d":127,"v":0.0072},{"d":128,"v":0.0068},{"d":129,"v":0.0063},
      {"d":130,"v":0.0058}
    ]
  },
  "vconcat": [
    {
      "title": {"text": "Hourly Close Chart", "anchor": "start", "dx": -24, "offset": 12, "fontSize": 16.5, "fontWeight": "bold", "font": "Liberation Sans", "color": "#000000"},
      "spacing": 92,
      "resolve": {"scale": {"color": "independent"}, "legend": {"color": "independent"}},
      "hconcat": [
        {
          "spacing": 7,
          "resolve": {"scale": {"color": "independent"}, "legend": {"color": "independent"}},
          "vconcat": [
            {
              "width": 364, "height": 136,
              "layer": [
                {"data": {"name": "hourly"}, "mark": {"type": "rule", "color": "#111111", "strokeWidth": 1},
                 "encoding": {
                   "x": {"field": "i", "type": "quantitative", "title": null, "scale": {"domain": [0, 124.4], "nice": false, "zero": false},
                         "axis": {"values": [0, 20, 40, 60, 80, 100, 120], "labelExpr": "[['24 Jun','0:00'],['24 Jun','20:00'],['27 Jun','16:00'],['28 Jun','12:00'],['29 Jun','8:00'],['30 Jun','4:00'],['1 Jul','0:00']][round(datum.value/20)]", "grid": false, "labelFlush": false, "labelOverlap": false, "labelPadding": 7, "labelLineHeight": 15}},
                   "y": {"field": "l", "type": "quantitative", "title": null, "scale": {"domain": [0.8255, 0.85079], "nice": false, "zero": false},
                         "axis": {"values": [0.8255, 0.833, 0.8405, 0.848], "format": ".4f", "grid": true, "domain": false, "labelPadding": 5}},
                   "y2": {"field": "h"}
                 }},
                {"data": {"values": [{}]}, "mark": {"type": "rule", "color": "#868686", "strokeWidth": 1},
                 "encoding": {"x": {"datum": 0, "type": "quantitative"}, "y": {"datum": 0.8255, "type": "quantitative"}, "y2": {"datum": 0.848}}},
                {"data": {"name": "hourly"}, "mark": {"type": "bar", "color": "#111111", "width": 1.8},
                 "encoding": {"x": {"field": "i", "type": "quantitative", "title": null}, "y": {"field": "o", "type": "quantitative", "title": null}, "y2": {"field": "c"}}},
                {"data": {"name": "hourlyMA"}, "mark": {"type": "line", "strokeWidth": 2.2},
                 "encoding": {
                   "x": {"field": "i", "type": "quantitative", "title": null},
                   "y": {"field": "v", "type": "quantitative", "title": null},
                   "color": {"field": "k", "type": "nominal", "scale": {"domain": ["20 Hr MA", "50 Hrs MA"], "range": ["#c8161d", "#1fae4f"]},
                             "legend": {"title": null, "orient": "none", "direction": "horizontal", "legendX": 85, "legendY": -10, "columnPadding": 9,
                                        "symbolType": "M-2.5,0H2.5", "symbolSize": 144, "labelOffset": 12}}
                 }}
              ]
            },
            {
              "width": 362, "height": 77,
              "layer": [
                {"data": {"name": "hourlyDiv"}, "mark": {"type": "bar", "color": "#808080", "width": 1.2},
                 "encoding": {
                   "x": {"field": "i", "type": "quantitative", "title": null, "scale": {"domain": [0, 124.4], "nice": false, "zero": false}, "axis": {"labels": false, "ticks": false, "grid": false}},
                   "y": {"field": "v", "type": "quantitative", "title": null, "scale": {"domain": [-0.005, 0.005], "nice": false},
                         "axis": {"values": [-0.005, 0, 0.005], "labelExpr": "replace(format(datum.value, '.4f'), '\u2212', '-')", "grid": true, "labelPadding": 5}}
                 }},
                {"data": {"name": "hourlyMACD"}, "mark": {"type": "line", "strokeWidth": 2.2},
                 "encoding": {
                   "x": {"field": "i", "type": "quantitative", "title": null},
                   "y": {"field": "v", "type": "quantitative", "title": null},
                   "color": {"field": "k", "type": "nominal", "scale": {"domain": ["Divergence", "MACD", "MACD Signal Line"], "range": ["#7f7f7f", "#c8161d", "#1fae4f"]},
                             "legend": {"title": null, "orient": "none", "direction": "horizontal", "legendX": 25, "legendY": 90, "columnPadding": 15,
                                        "symbolType": "M-2.5,0H2.5", "symbolSize": 144, "labelOffset": 12,
                                        "encode": {"symbols": {"update": {"strokeWidth": {"signal": "datum.value === 'Divergence' ? 6 : 2"}}}}}}
                 }}
              ]
            }
          ]
        },
        {
          "width": 407, "height": 216,
          "layer": [
            {"data": {"name": "pivH"}, "mark": {"type": "rule", "strokeWidth": 2},
             "encoding": {
               "y": {"field": "v", "type": "quantitative", "title": null, "scale": {"domain": [0.821, 0.861], "nice": false, "zero": false},
                     "axis": {"values": [0.821, 0.831, 0.841, 0.851, 0.861], "format": ".4f", "grid": false, "labelFontSize": 12, "labelPadding": 10}},
               "color": {"field": "name", "type": "nominal", "scale": {"domain": ["CLOSE", "R2", "R1", "S1", "S2"], "range": ["#2477c0", "#c3d69b", "#e6b9b8", "#b3a2c7", "#93cddd"]},
                         "legend": {"title": "Note: Support & Resistance Calculated based on 1 Hr Pivot Points", "orient": "none", "direction": "horizontal", "legendX": -14, "legendY": 252, "columnPadding": 33,
                                    "symbolType": "M-2.5,0H2.5", "symbolSize": 144, "labelOffset": 12,
                                    "labelFontSize": 12, "titleOrient": "bottom", "titleAnchor": "middle", "titleFontWeight": "normal", "titleFontSize": 12, "titleColor": "#404040", "titlePadding": 9, "titleLimit": 700}}
             }},
            {"data": {"name": "pivH"}, "mark": {"type": "text", "align": "right", "baseline": "middle", "dx": -5, "dy": -10, "fontSize": 12, "color": "#404040"},
             "encoding": {"x": {"datum": 24, "type": "quantitative"}, "y": {"field": "v", "type": "quantitative"}, "text": {"field": "v", "type": "quantitative", "format": ".4f"}}},
            {"data": {"name": "close24"}, "mark": {"type": "line", "strokeWidth": 2.5},
             "encoding": {
               "x": {"field": "h", "type": "quantitative", "title": null, "scale": {"domain": [0, 24], "nice": false, "zero": false},
                     "axis": {"values": [0, 3, 6, 9, 12, 15, 18, 21, 24], "labelExpr": "['3:00','6:00','9:00','12:00','15:00','18:00','21:00','0:00','3:00'][round(datum.value/3)]", "grid": false, "labelFlush": false, "labelOverlap": false, "labelFontSize": 12, "labelPadding": 10}},
               "y": {"field": "c", "type": "quantitative", "title": null},
               "color": {"datum": "CLOSE", "type": "nominal"}
             }}
          ]
        }
      ]
    },
    {
      "width": 1012, "height": 2,
      "data": {"values": [{}]},
      "mark": {"type": "rule", "color": "#9a9a9a", "strokeWidth": 1.5},
      "encoding": {"y": {"datum": 0, "type": "quantitative", "scale": {"domain": [0, 1]}, "axis": null}}
    },
    {
      "title": {"text": "Daily Close Chart", "anchor": "start", "dx": -24, "offset": 12, "fontSize": 16.5, "fontWeight": "bold", "font": "Liberation Sans", "color": "#000000"},
      "spacing": 75,
      "resolve": {"scale": {"color": "independent"}, "legend": {"color": "independent"}},
      "hconcat": [
        {
          "spacing": 15,
          "resolve": {"scale": {"color": "independent"}, "legend": {"color": "independent"}},
          "vconcat": [
            {
              "width": 368, "height": 146,
              "layer": [
                {"data": {"name": "daily"}, "mark": {"type": "rule", "color": "#111111", "strokeWidth": 1},
                 "encoding": {
                   "x": {"field": "d", "type": "quantitative", "title": null, "scale": {"domain": [0, 130.3], "nice": false, "zero": false},
                         "axis": {"values": [0, 26, 52, 78, 104, 130], "labelExpr": "['30-Dec','4-Feb','14-Mar','19-Apr','25-May','30-Jun'][round(datum.value/26)]", "grid": false, "labelFlush": false, "labelOverlap": false, "labelPadding": 7}},
                   "y": {"field": "l", "type": "quantitative", "title": null, "scale": {"domain": [0.815, 1.08875], "nice": false, "zero": false},
                         "axis": {"values": [0.815, 0.9, 0.985, 1.07], "format": ".4f", "grid": true, "domain": false, "labelPadding": 5}},
                   "y2": {"field": "h"}
                 }},
                {"data": {"values": [{}]}, "mark": {"type": "rule", "color": "#868686", "strokeWidth": 1},
                 "encoding": {"x": {"datum": 0, "type": "quantitative"}, "y": {"datum": 0.815, "type": "quantitative"}, "y2": {"datum": 1.07}}},
                {"data": {"name": "daily"}, "mark": {"type": "bar", "color": "#111111", "width": 1.8},
                 "encoding": {"x": {"field": "d", "type": "quantitative", "title": null}, "y": {"field": "o", "type": "quantitative", "title": null}, "y2": {"field": "c"}}},
                {"data": {"name": "dailyMA"}, "transform": [{"fold": ["20 Day", "50 Day", "200 Day"], "as": ["k", "v"]}],
                 "mark": {"type": "line", "strokeWidth": 2.2},
                 "encoding": {
                   "x": {"field": "d", "type": "quantitative", "title": null},
                   "y": {"field": "v", "type": "quantitative", "title": null},
                   "color": {"field": "k", "type": "nominal", "scale": {"domain": ["20 Day", "50 Day", "200 Day"], "range": ["#5b8fd6", "#c8161d", "#1fae4f"]},
                             "legend": {"title": null, "orient": "none", "direction": "horizontal", "legendX": 58, "legendY": -9, "columnPadding": 25,
                                        "symbolType": "M-2.5,0H2.5", "symbolSize": 144, "labelOffset": 12}}
                 }}
              ]
            },
            {
              "width": 367, "height": 74,
              "layer": [
                {"data": {"name": "dailyDiv"}, "mark": {"type": "bar", "color": "#808080", "width": 1.2},
                 "encoding": {
                   "x": {"field": "d", "type": "quantitative", "title": null, "scale": {"domain": [0, 130.3], "nice": false, "zero": false}, "axis": {"labels": false, "ticks": false, "grid": false}},
                   "y": {"field": "v", "type": "quantitative", "title": null, "scale": {"domain": [-0.025, 0.025], "nice": false},
                         "axis": {"values": [-0.025, 0, 0.025], "labelExpr": "replace(format(datum.value, '.4f'), '\u2212', '-')", "grid": true, "labelPadding": 5}}
                 }},
                {"data": {"name": "dailyMACD"}, "mark": {"type": "line", "strokeWidth": 2.2},
                 "encoding": {
                   "x": {"field": "d", "type": "quantitative", "title": null},
                   "y": {"field": "v", "type": "quantitative", "title": null},
                   "color": {"field": "k", "type": "nominal", "scale": {"domain": ["Divergence", "MACD", "MACD Signal Line"], "range": ["#7f7f7f", "#1fae4f", "#c8161d"]},
                             "legend": {"title": null, "orient": "none", "direction": "horizontal", "legendX": 21, "legendY": 84, "columnPadding": 17,
                                        "symbolType": "M-2.5,0H2.5", "symbolSize": 144, "labelOffset": 12,
                                        "encode": {"symbols": {"update": {"strokeWidth": {"signal": "datum.value === 'Divergence' ? 6 : 2"}}}}}}
                 }}
              ]
            }
          ]
        },
        {
          "width": 407, "height": 198,
          "layer": [
            {"data": {"name": "pivD"}, "mark": {"type": "rule", "strokeWidth": 2},
             "encoding": {
               "y": {"field": "v", "type": "quantitative", "title": null, "scale": {"domain": [0.8155, 0.8595], "nice": false, "zero": false},
                     "axis": {"values": [0.8155, 0.8265, 0.8375, 0.8485, 0.8595], "format": ".4f", "grid": false, "labelFontSize": 12, "labelPadding": 10}},
               "color": {"field": "name", "type": "nominal", "scale": {"domain": ["CLOSE", "R2", "R1", "S1", "S2"], "range": ["#2477c0", "#c3d69b", "#e6b9b8", "#b3a2c7", "#93cddd"]},
                         "legend": {"title": "Note: Support & Resistance Calculated based on 24 Hr Pivot Points", "orient": "none", "direction": "horizontal", "legendX": -13, "legendY": 251, "columnPadding": 33,
                                    "symbolType": "M-2.5,0H2.5", "symbolSize": 144, "labelOffset": 12,
                                    "labelFontSize": 12, "titleOrient": "bottom", "titleAnchor": "middle", "titleFontWeight": "normal", "titleFontSize": 12, "titleColor": "#404040", "titlePadding": 6, "titleLimit": 700}}
             }},
            {"data": {"name": "pivD"}, "mark": {"type": "text", "align": "right", "baseline": "middle", "dx": -14, "dy": -11, "fontSize": 12, "color": "#404040"},
             "encoding": {"x": {"datum": 124.4, "type": "quantitative"}, "y": {"field": "v", "type": "quantitative"}, "text": {"field": "v", "type": "quantitative", "format": ".4f"}}},
            {"data": {"name": "hourly"}, "mark": {"type": "line", "strokeWidth": 2.5},
             "encoding": {
               "x": {"field": "i", "type": "quantitative", "title": null, "scale": {"domain": [0, 124.4], "nice": false, "zero": false},
                     "axis": {"values": [0, 20, 40, 60, 80, 100, 120], "labelExpr": "[['24 Jun','0:00'],['24 Jun','20:00'],['27 Jun','16:00'],['28 Jun','12:00'],['29 Jun','8:00'],['30 Jun','4:00'],'1 Jul 0:00'][round(datum.value/20)]", "grid": false, "labelFlush": false, "labelOverlap": false, "labelFontSize": 12, "labelPadding": 12, "labelLineHeight": 15}},
               "y": {"field": "c", "type": "quantitative", "title": null},
               "color": {"datum": "CLOSE", "type": "nominal"}
             }}
          ]
        }
      ]
    },
    {
      "width": 1012, "height": 7,
      "data": {"values": [{}]},
      "mark": {"type": "rule", "color": "#9a9a9a", "strokeWidth": 1.5},
      "encoding": {"y": {"datum": 0, "type": "quantitative", "scale": {"domain": [0, 1]}, "axis": null}}
    }
  ]
}
